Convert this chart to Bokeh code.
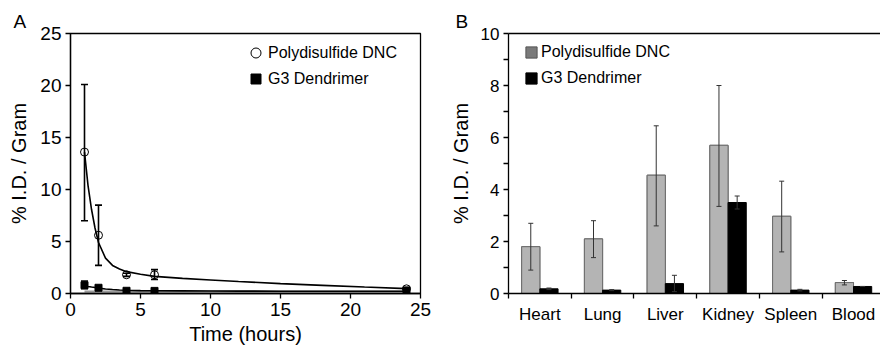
from bokeh.plotting import figure
from bokeh.models import (ColumnDataSource, Whisker, TeeHead, FixedTicker, Range1d,
                          Legend, LegendItem, Title, LinearAxis)
from bokeh.layouts import row
from bokeh.embed import file_html
from bokeh.resources import INLINE

FONT = "Liberation Sans"

# ---------------- Panel A data ----------------
time_h = [1, 2, 4, 6, 24]
dnc_mean = [13.6, 5.6, 1.8, 1.8, 0.45]
dnc_lo = [7.0, 2.7, 1.65, 1.35, 0.40]
dnc_hi = [20.1, 8.5, 1.95, 2.3, 0.50]
g3_mean = [0.8, 0.55, 0.26, 0.25, 0.30]
g3_lo = [0.45, 0.45, 0.20, 0.20, 0.22]
g3_hi = [1.2, 0.70, 0.32, 0.30, 0.38]

# fitted curves
fit_t = [1, 1.25, 1.5, 1.75, 2, 2.5, 3, 3.5, 4, 5, 6, 8, 10, 12, 15, 18, 21, 24]
fit_dnc = [13.6, 10.4, 8.1, 6.3, 4.9, 3.4, 2.7, 2.35, 2.1, 1.85, 1.65, 1.45, 1.3,
           1.15, 0.95, 0.78, 0.62, 0.47]
fit_g3 = [0.75, 0.68, 0.62, 0.57, 0.52, 0.44, 0.38, 0.34, 0.31, 0.28, 0.26, 0.25,
          0.24, 0.23, 0.22, 0.22, 0.21, 0.21]
band_t = [1, 24]
band_y = [0.13, 0.13]

time_ticks = [0, 5, 10, 15, 20, 25]
pct_ticks_a = [0, 5, 10, 15, 20, 25]

# ---------------- Panel B data ----------------
organs = ["Heart", "Lung", "Liver", "Kidney", "Spleen", "Blood"]
org_dnc = [1.8, 2.1, 4.55, 5.7, 2.97, 0.42]
org_dnc_lo = [0.9, 1.38, 2.6, 3.35, 1.6, 0.33]
org_dnc_hi = [2.7, 2.8, 6.45, 8.0, 4.32, 0.50]
org_g3 = [0.18, 0.13, 0.38, 3.5, 0.13, 0.27]
org_g3_lo = [0.15, 0.11, 0.07, 3.25, 0.10, 0.27]
org_g3_hi = [0.21, 0.15, 0.70, 3.75, 0.16, 0.27]
pct_ticks_b = [0, 2, 4, 6, 8, 10]
pct_minor_b = [1, 3, 5, 7, 9]


def style_axes(p, tick_size, label_size):
    for ax in p.axis:
        ax.axis_line_color = "black"
        ax.axis_line_width = 1.3
        ax.major_tick_line_color = "black"
        ax.major_tick_line_width = 1.3
        ax.minor_tick_line_color = "black"
        ax.minor_tick_line_width = 1.3
        ax.major_tick_in = 0
        ax.major_tick_out = 5
        ax.minor_tick_in = 0
        ax.minor_tick_out = 0
        ax.major_label_text_font = FONT
        ax.major_label_text_font_size = tick_size
        ax.major_label_text_color = "black"
        ax.axis_label_text_font = FONT
        ax.axis_label_text_font_size = label_size
        ax.axis_label_text_font_style = "normal"
        ax.axis_label_text_color = "black"


def panel_title(p, letter, offset, standoff):
    p.add_layout(Title(text=letter, align="left", offset=offset, standoff=standoff,
                       text_font=FONT, text_font_size="19px",
                       text_font_style="normal", text_color="black"), "above")


# ================= Panel A =================
pA = figure(width=440, height=347, output_backend="svg", toolbar_location=None,
            x_range=Range1d(0, 25), y_range=Range1d(0, 25),
            min_border_left=70, min_border_right=20, min_border_top=33,
            min_border_bottom=52)
pA.grid.visible = False
pA.outline_line_color = "black"
pA.outline_line_width = 1.3
pA.xaxis.ticker = FixedTicker(ticks=time_ticks)
pA.yaxis.ticker = FixedTicker(ticks=pct_ticks_a)
pA.xaxis.axis_label = "Time (hours)"
pA.yaxis.axis_label = "% I.D. / Gram"
style_axes(pA, "19px", "20px")
pA.xaxis.major_label_standoff = 4
pA.yaxis.major_label_standoff = 4
pA.xaxis.axis_label_standoff = 4
pA.yaxis.axis_label_standoff = 7

pA.line(band_t, band_y, line_color="#9a9a9a", line_width=3.5)
pA.line(fit_t, fit_dnc, line_color="black", line_width=1.6)
pA.line(fit_t, fit_g3, line_color="black", line_width=1.6)

srcA1 = ColumnDataSource(dict(t=time_h, m=dnc_mean, lo=dnc_lo, hi=dnc_hi))
srcA2 = ColumnDataSource(dict(t=time_h, m=g3_mean, lo=g3_lo, hi=g3_hi))
for s in (srcA1, srcA2):
    w = Whisker(base="t", lower="lo", upper="hi", source=s, dimension="height",
                line_color="black", line_width=1.6, level="glyph",
                upper_head=TeeHead(size=7, line_color="black", line_width=1.6),
                lower_head=TeeHead(size=7, line_color="black", line_width=1.6))
    pA.add_layout(w)

rA1 = pA.scatter("t", "m", source=srcA1, marker="circle", size=8,
                 fill_color=None, line_color="black", line_width=1)
rA2 = pA.scatter("t", "m", source=srcA2, marker="square", size=7,
                 fill_color="black", line_color="black", line_width=1)

legA = Legend(items=[LegendItem(label="Polydisulfide DNC", renderers=[rA1]),
                     LegendItem(label="G3 Dendrimer", renderers=[rA2])],
              location=(173, 202), glyph_width=25, glyph_height=25,
              label_standoff=0, spacing=1, padding=0, margin=0,
              border_line_color=None, background_fill_alpha=0,
              label_text_font=FONT, label_text_font_size="16px",
              label_text_color="black")
pA.add_layout(legA)
panel_title(pA, "A", -57, 3)

# ================= Panel B =================
ncat = len(organs)
pB = figure(width=440, height=347, output_backend="svg", toolbar_location=None,
            x_range=Range1d(0, 5.93), y_range=Range1d(0, 10),
            min_border_left=68, min_border_right=0, min_border_top=32,
            min_border_bottom=52)
pB.grid.visible = False
pB.outline_line_color = None
top_ax = LinearAxis(ticker=FixedTicker(ticks=[]), axis_line_color="black",
                    axis_line_width=1.3, major_tick_out=0, major_tick_in=0,
                    minor_tick_out=0, minor_tick_in=0)
pB.add_layout(top_ax, "above")
cat_centers = [i + 0.5 for i in range(ncat)]
bx = pB.below[0]
by = pB.left[0]
bx.ticker = FixedTicker(ticks=cat_centers, minor_ticks=list(range(ncat + 1)))
by.ticker = FixedTicker(ticks=pct_ticks_b, minor_ticks=pct_minor_b)
by.axis_label = "% I.D. / Gram"
style_axes(pB, "17px", "20px")
bx.major_label_overrides = {c: o for c, o in zip(cat_centers, organs)}
bx.major_tick_out = 0
bx.minor_tick_out = 5
bx.major_label_standoff = 6
by.minor_tick_out = 5
by.major_label_standoff = 4
by.axis_label_standoff = 6
top_ax.major_tick_out = 0
top_ax.minor_tick_out = 0

x_dnc = [i + 0.355 for i in range(ncat)]
x_g3 = [i + 0.645 for i in range(ncat)]
srcB1 = ColumnDataSource(dict(x=x_dnc, top=org_dnc, lo=org_dnc_lo, hi=org_dnc_hi))
srcB2 = ColumnDataSource(dict(x=x_g3, top=org_g3, lo=org_g3_lo, hi=org_g3_hi))
# legend swatch renderer (darker grey), hidden beneath the visible bars
lr1 = pB.vbar(x="x", top="top", width=0.29, source=srcB1, fill_color="#7a7a7a",
              line_color="#555555", line_width=1)
pB.vbar(x="x", top="top", width=0.29, source=srcB1, fill_color="#b4b4b4",
        line_color="#6e6e6e", line_width=1)
lr2 = pB.vbar(x="x", top="top", width=0.29, source=srcB2, fill_color="black",
              line_color="black", line_width=1)
for s in (srcB1, srcB2):
    w = Whisker(base="x", lower="lo", upper="hi", source=s, dimension="height",
                line_color="#333333", line_width=1, level="glyph",
                upper_head=TeeHead(size=5, line_color="#333333", line_width=1),
                lower_head=TeeHead(size=5, line_color="#333333", line_width=1))
    pB.add_layout(w)

legB = Legend(items=[LegendItem(label="Polydisulfide DNC", renderers=[lr1]),
                     LegendItem(label="G3 Dendrimer", renderers=[lr2])],
              location=(16, 205), glyph_width=14, glyph_height=14,
              label_standoff=3, spacing=6, padding=0, margin=0, label_height=20,
              border_line_color=None, background_fill_alpha=0,
              label_text_font=FONT, label_text_font_size="16px",
              label_text_color="black")
pB.add_layout(legB)
panel_title(pB, "B", -53, 3)

layout = row(pA, pB)
open("out.html", "w").write(file_html(layout, INLINE))
